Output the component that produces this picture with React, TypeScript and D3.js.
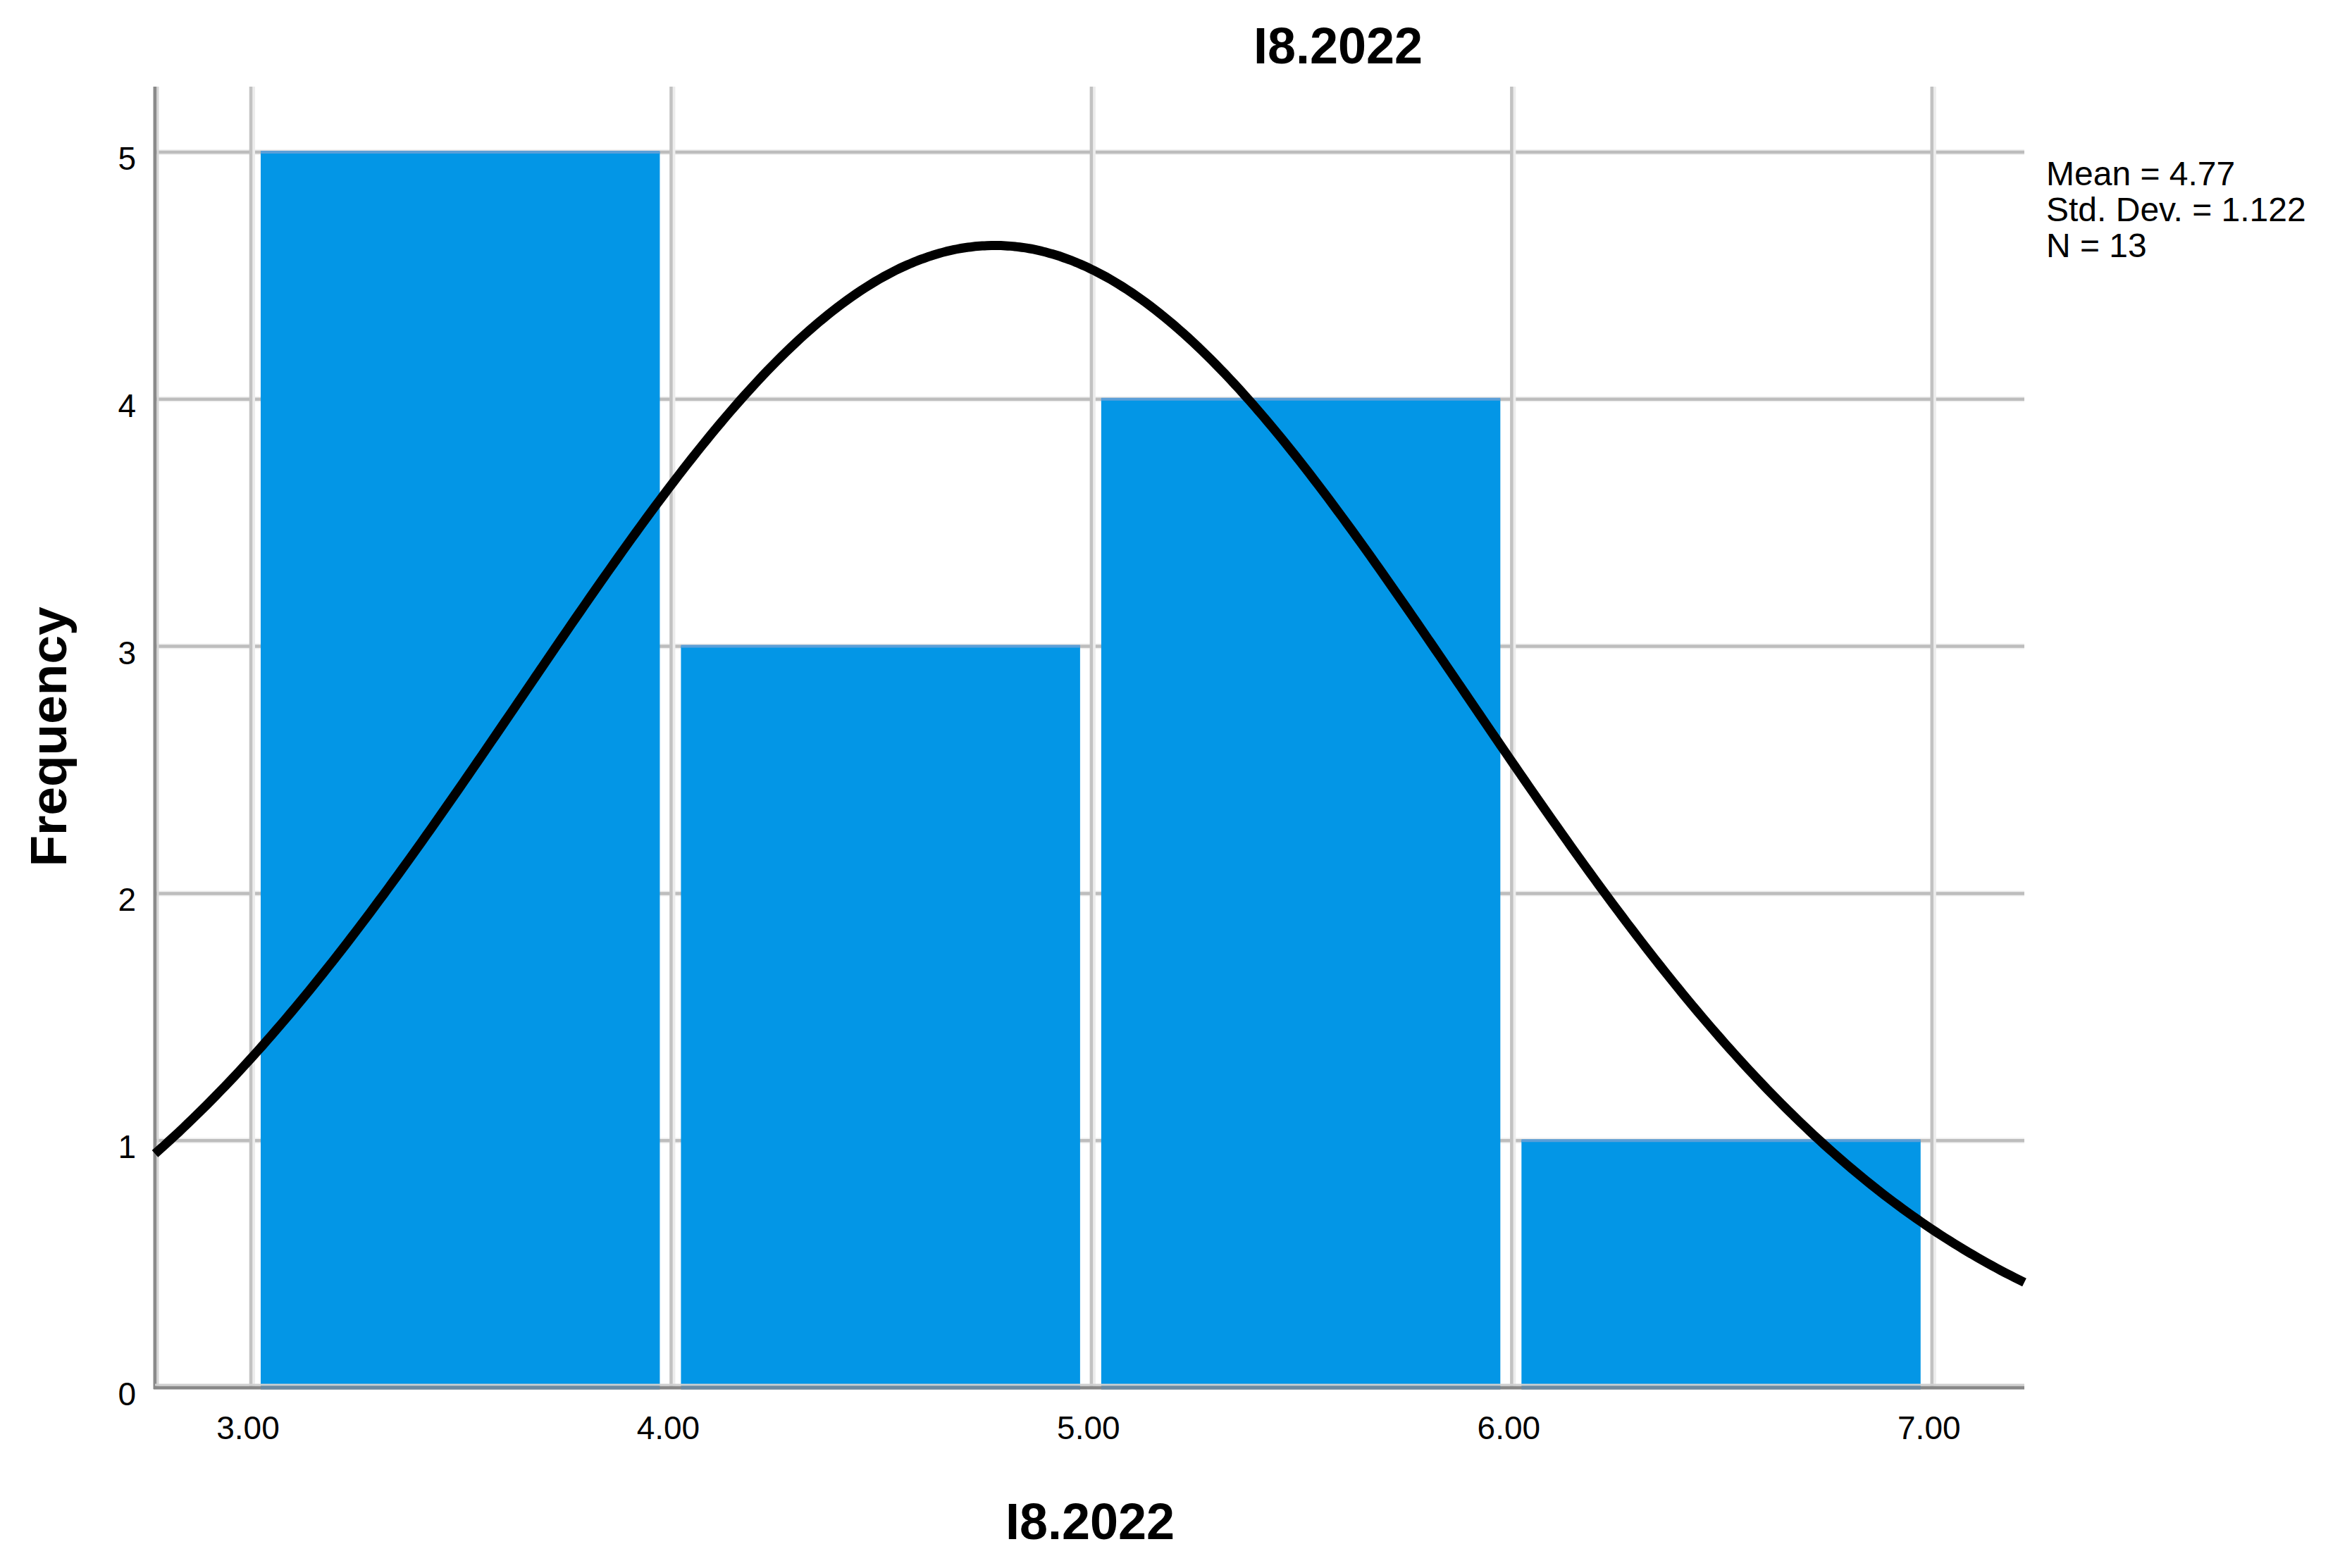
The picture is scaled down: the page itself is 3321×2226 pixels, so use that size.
import React from "react";
import * as d3 from "d3";

// ---- data ----
const binStarts = [3, 4, 5, 6];
const binEnds = [4, 5, 6, 7];
const frequencies = [5, 3, 4, 1];
const xTickValues = [3, 4, 5, 6, 7];
const xTickLabels = ["3.00", "4.00", "5.00", "6.00", "7.00"];
const yTickValues = [0, 1, 2, 3, 4, 5];
const statMean = 4.77;
const statSd = 1.122;
const statN = 13;
const legendLines = ["Mean = 4.77", "Std. Dev. = 1.122", "N = 13"];
const chartTitle = "I8.2022";
const xAxisTitle = "I8.2022";
const yAxisTitle = "Frequency";

const W = 3321;
const H = 2226;
const left = 220;
const right = 2873;
const top = 123;
const bottom = 1970;
const FONT = "'Liberation Sans', Arial, Helvetica, sans-serif";

export default function App() {
  const x = d3.scaleLinear().domain([2.772, 7.22]).range([left, right]);
  const y = d3.scaleLinear().domain([0, 5.265]).range([bottom, top]);

  const binWidth = binEnds[0] - binStarts[0];
  const curveXs = d3.range(0, 401).map((i) => 2.772 + (i / 400) * (7.22 - 2.772));
  const normal = (v: number) =>
    (statN * binWidth * Math.exp(-0.5 * ((v - statMean) / statSd) ** 2)) /
    (statSd * Math.sqrt(2 * Math.PI));
  const line = d3
    .line<number>()
    .x((d) => x(d))
    .y((d) => y(normal(d)))
    .curve(d3.curveBasis);

  const insetL = 14;
  const insetR = 16;

  return (
    <svg
      width={W}
      height={H}
      viewBox={`0 0 ${W} ${H}`}
      style={{ position: "absolute", left: 0, top: 0, background: "#fff" }}
    >
      <rect x={0} y={0} width={W} height={H} fill="#fff" />
      {/* gridlines */}
      {yTickValues
        .filter((v) => v > 0)
        .map((v) => (
          <g key={"hy" + v}>
            <line x1={left} x2={right} y1={y(v)} y2={y(v)} stroke="#f0f0f0" strokeWidth={8} />
            <line x1={left} x2={right} y1={y(v)} y2={y(v)} stroke="#bdbdbd" strokeWidth={4.5} />
          </g>
        ))}
      {xTickValues.map((v) => (
        <g key={"vx" + v}>
          <line x1={x(v) + 3} x2={x(v) + 3} y1={top} y2={bottom} stroke="#ececec" strokeWidth={6} />
          <line x1={x(v)} x2={x(v)} y1={top} y2={bottom} stroke="#c2c2c2" strokeWidth={4.5} />
        </g>
      ))}
      {/* bars */}
      {frequencies.map((f, i) => {
        const x0 = x(binStarts[i]) + insetL;
        const x1 = x(binEnds[i]) - insetR;
        return (
          <g key={"b" + i}>
            <rect x={x0} y={y(f)} width={x1 - x0} height={y(0) - y(f)} fill="#0396e6" />
            <line x1={x0} x2={x1} y1={y(f)} y2={y(f)} stroke="#5a9fd9" strokeWidth={4} />
          </g>
        );
      })}
      {/* axes */}
      <line x1={left} x2={left} y1={top} y2={bottom + 2} stroke="#8a8a8a" strokeWidth={5} />
      <line x1={left + 4} x2={left + 4} y1={top} y2={bottom} stroke="#d6d6d6" strokeWidth={3} />
      <line x1={left - 2} x2={right} y1={bottom} y2={bottom} stroke="#888" strokeWidth={5} />
      <line x1={left} x2={right} y1={bottom - 4} y2={bottom - 4} stroke="#cfcfcf" strokeWidth={3} />
      {frequencies.map((f, i) => {
        const x0 = x(binStarts[i]) + insetL;
        const x1 = x(binEnds[i]) - insetR;
        return (
          <line key={"bb" + i} x1={x0} x2={x1} y1={bottom} y2={bottom} stroke="#6e8aa0" strokeWidth={5} />
        );
      })}
      {/* normal curve */}
      <path d={line(curveXs) || ""} fill="none" stroke="#000" strokeWidth={13} strokeLinecap="butt" />
      {/* y tick labels */}
      {yTickValues.map((v) => (
        <text
          key={"yt" + v}
          x={193}
          y={y(v) + 25}
          textAnchor="end"
          fontFamily={FONT}
          fontSize={46}
          fill="#000"
        >
          {v}
        </text>
      ))}
      {/* x tick labels */}
      {xTickValues.map((v, i) => (
        <text
          key={"xt" + v}
          x={x(v) - 4}
          y={2043}
          textAnchor="middle"
          fontFamily={FONT}
          fontSize={46}
          fill="#000"
        >
          {xTickLabels[i]}
        </text>
      ))}
      {/* titles */}
      <text x={1899} y={90} textAnchor="middle" fontFamily={FONT} fontWeight="bold" fontSize={72} fill="#000">
        {chartTitle}
      </text>
      <text x={1547} y={2185} textAnchor="middle" fontFamily={FONT} fontWeight="bold" fontSize={72} fill="#000">
        {xAxisTitle}
      </text>
      <text
        transform={`translate(94, 1046) rotate(-90)`}
        textAnchor="middle"
        fontFamily={FONT}
        fontWeight="bold"
        fontSize={73}
        fill="#000"
      >
        {yAxisTitle}
      </text>
      {/* legend */}
      {legendLines.map((t, i) => (
        <text key={"lg" + i} x={2904} y={263 + i * 51} fontFamily={FONT} fontSize={48} fill="#000">
          {t}
        </text>
      ))}
    </svg>
  );
}
